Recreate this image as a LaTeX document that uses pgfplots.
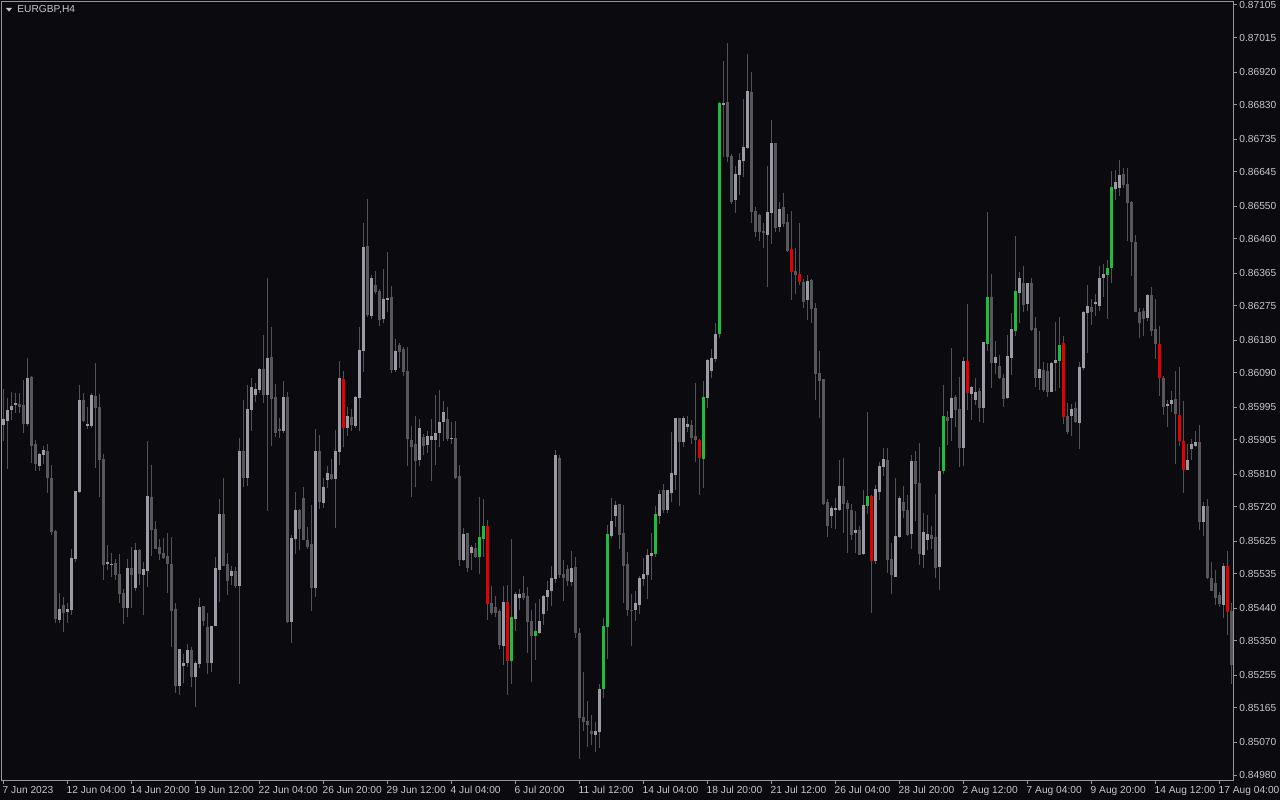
\documentclass[border=0pt]{standalone}
\usepackage{pgfplots}
\usepackage{pgfplotstable}
\pgfplotsset{compat=1.18}
\usepackage{fontspec}
\setmainfont{Liberation Sans}
\pgfdeclarelayer{background}
\pgfsetlayers{background,main}
\definecolor{bgc}{RGB}{10,10,15}
\definecolor{framec}{RGB}{150,150,155}
\definecolor{txtc}{RGB}{200,200,200}
\definecolor{wickc}{RGB}{82,82,88}
\definecolor{upc}{RGB}{155,155,166}
\definecolor{dnc}{RGB}{88,88,92}
\definecolor{grc}{RGB}{30,190,60}
\definecolor{rdc}{RGB}{228,0,0}

% t: 0 up (light), 1 down (dark), 2 green, 3 red
\pgfplotstableread{
i o h l c t
0 0.85946 0.86045 0.85902 0.85963 0
1 0.85957 0.86021 0.85825 0.85987 0
2 0.85987 0.86037 0.85960 0.85998 0
3 0.86001 0.86034 0.85979 0.86007 0
4 0.86004 0.86034 0.85979 0.85996 1
5 0.86001 0.86070 0.85924 0.85949 1
6 0.85949 0.86131 0.85943 0.86078 0
7 0.86078 0.86081 0.85841 0.85888 1
8 0.85894 0.85905 0.85819 0.85838 1
9 0.85833 0.85869 0.85819 0.85866 0
10 0.85863 0.85888 0.85838 0.85877 0
11 0.85877 0.85894 0.85761 0.85802 1
12 0.85802 0.85836 0.85645 0.85651 1
13 0.85653 0.85656 0.85400 0.85411 1
14 0.85408 0.85482 0.85400 0.85438 0
15 0.85449 0.85471 0.85377 0.85427 1
16 0.85430 0.85455 0.85400 0.85438 0
17 0.85435 0.85604 0.85422 0.85579 0
18 0.85576 0.85764 0.85568 0.85764 0
19 0.85761 0.86056 0.85758 0.86015 0
20 0.86015 0.86034 0.85954 0.85957 1
21 0.85946 0.85996 0.85935 0.85949 0
22 0.85943 0.86034 0.85938 0.86029 0
23 0.86026 0.86117 0.85827 0.85993 1
24 0.85996 0.86032 0.85747 0.85849 1
25 0.85852 0.85866 0.85518 0.85560 1
26 0.85562 0.85615 0.85546 0.85568 0
27 0.85562 0.85593 0.85526 0.85565 0
28 0.85565 0.85576 0.85518 0.85532 1
29 0.85535 0.85590 0.85455 0.85482 1
30 0.85482 0.85493 0.85397 0.85441 1
31 0.85441 0.85576 0.85416 0.85551 0
32 0.85551 0.85609 0.85441 0.85532 1
33 0.85496 0.85620 0.85488 0.85601 0
34 0.85601 0.85604 0.85504 0.85535 1
35 0.85532 0.85568 0.85422 0.85549 0
36 0.85543 0.85902 0.85499 0.85750 0
37 0.85747 0.85836 0.85587 0.85656 1
38 0.85659 0.85681 0.85607 0.85604 1
39 0.85609 0.85631 0.85573 0.85590 1
40 0.85593 0.85634 0.85576 0.85579 1
41 0.85584 0.85648 0.85485 0.85562 1
42 0.85562 0.85637 0.85333 0.85433 1
43 0.85438 0.85455 0.85206 0.85226 1
44 0.85226 0.85328 0.85201 0.85328 0
45 0.85281 0.85314 0.85234 0.85289 0
46 0.85289 0.85342 0.85278 0.85325 0
47 0.85325 0.85333 0.85223 0.85250 1
48 0.85250 0.85297 0.85168 0.85289 0
49 0.85286 0.85469 0.85275 0.85446 0
50 0.85446 0.85449 0.85394 0.85405 1
51 0.85388 0.85427 0.85259 0.85289 1
52 0.85289 0.85391 0.85264 0.85391 0
53 0.85391 0.85582 0.85391 0.85551 0
54 0.85546 0.85742 0.85457 0.85700 0
55 0.85700 0.85800 0.85557 0.85557 1
56 0.85562 0.85595 0.85477 0.85515 1
57 0.85529 0.85557 0.85504 0.85543 0
58 0.85543 0.85554 0.85496 0.85502 1
59 0.85502 0.85910 0.85231 0.85874 0
60 0.85877 0.86015 0.85775 0.85802 1
61 0.85802 0.86056 0.85778 0.85990 0
62 0.85987 0.86076 0.85929 0.86051 0
63 0.86029 0.86062 0.86009 0.86045 0
64 0.86043 0.86106 0.86037 0.86101 0
65 0.86101 0.86194 0.86007 0.86029 1
66 0.86029 0.86352 0.85709 0.86131 0
67 0.86134 0.86216 0.85888 0.86018 1
68 0.86023 0.86059 0.85913 0.85924 1
69 0.85935 0.85965 0.85910 0.85929 1
70 0.85929 0.86067 0.85924 0.86023 0
71 0.86023 0.86037 0.85400 0.85402 1
72 0.85402 0.85642 0.85344 0.85634 0
73 0.85631 0.85761 0.85590 0.85711 0
74 0.85711 0.85714 0.85601 0.85659 1
75 0.85745 0.85775 0.85629 0.85629 1
76 0.85631 0.85664 0.85604 0.85612 1
77 0.85618 0.85728 0.85435 0.85496 1
78 0.85496 0.85935 0.85471 0.85874 0
79 0.85874 0.85918 0.85714 0.85733 1
80 0.85733 0.85800 0.85717 0.85775 0
81 0.85794 0.85833 0.85772 0.85814 0
82 0.85811 0.85852 0.85794 0.85797 1
83 0.85797 0.85932 0.85662 0.85874 0
84 0.85871 0.86123 0.85836 0.86076 0
85 0.86073 0.86095 0.85885 0.85938 3
86 0.85938 0.85996 0.85916 0.85971 0
87 0.85968 0.85990 0.85929 0.85946 1
88 0.85943 0.86026 0.85938 0.86023 0
89 0.86021 0.86216 0.85929 0.86153 0
90 0.86150 0.86506 0.86095 0.86437 0
91 0.86440 0.86570 0.86244 0.86250 1
92 0.86247 0.86363 0.86241 0.86354 0
93 0.86332 0.86371 0.86308 0.86313 1
94 0.86316 0.86321 0.86219 0.86236 1
95 0.86239 0.86377 0.86228 0.86294 0
96 0.86291 0.86423 0.86258 0.86297 0
97 0.86299 0.86332 0.86092 0.86098 1
98 0.86098 0.86183 0.86092 0.86150 0
99 0.86167 0.86172 0.86103 0.86150 1
100 0.86156 0.86161 0.86081 0.86092 1
101 0.86095 0.86161 0.85833 0.85907 1
102 0.85907 0.85943 0.85747 0.85888 1
103 0.85894 0.85971 0.85775 0.85847 1
104 0.85849 0.85963 0.85833 0.85938 0
105 0.85913 0.85921 0.85863 0.85888 1
106 0.85891 0.85929 0.85869 0.85916 0
107 0.85905 0.85963 0.85791 0.85916 0
108 0.85905 0.86029 0.85836 0.85924 0
109 0.85924 0.86043 0.85885 0.85957 0
110 0.85954 0.86015 0.85902 0.85982 0
111 0.85963 0.85996 0.85902 0.85907 1
112 0.85907 0.85957 0.85896 0.85910 0
113 0.85910 0.85957 0.85797 0.85800 1
114 0.85805 0.85836 0.85557 0.85573 1
115 0.85573 0.85662 0.85571 0.85645 0
116 0.85648 0.85648 0.85540 0.85551 1
117 0.85593 0.85615 0.85546 0.85609 0
118 0.85609 0.85620 0.85579 0.85582 1
119 0.85582 0.85747 0.85535 0.85637 2
120 0.85634 0.85742 0.85582 0.85670 2
121 0.85667 0.85684 0.85408 0.85452 3
122 0.85455 0.85502 0.85422 0.85427 1
123 0.85444 0.85474 0.85416 0.85427 1
124 0.85433 0.85438 0.85328 0.85339 1
125 0.85336 0.85502 0.85284 0.85457 0
126 0.85457 0.85504 0.85201 0.85295 3
127 0.85295 0.85631 0.85231 0.85416 2
128 0.85411 0.85485 0.85377 0.85480 0
129 0.85471 0.85493 0.85435 0.85482 0
130 0.85482 0.85529 0.85463 0.85469 1
131 0.85474 0.85499 0.85317 0.85402 1
132 0.85405 0.85435 0.85237 0.85364 1
133 0.85364 0.85455 0.85297 0.85377 2
134 0.85372 0.85466 0.85369 0.85405 0
135 0.85424 0.85477 0.85394 0.85474 0
136 0.85471 0.85515 0.85433 0.85490 0
137 0.85490 0.85557 0.85446 0.85526 0
138 0.85521 0.85877 0.85510 0.85863 0
139 0.85855 0.85863 0.85524 0.85532 1
140 0.85535 0.85573 0.85460 0.85524 1
141 0.85549 0.85560 0.85502 0.85515 1
142 0.85515 0.85601 0.85504 0.85554 0
143 0.85554 0.85582 0.85358 0.85372 1
144 0.85372 0.85388 0.85024 0.85137 1
145 0.85140 0.85264 0.85101 0.85126 1
146 0.85129 0.85184 0.85057 0.85118 1
147 0.85101 0.85146 0.85063 0.85093 1
148 0.85090 0.85126 0.85043 0.85101 0
149 0.85099 0.85234 0.85057 0.85217 0
150 0.85217 0.85413 0.85193 0.85391 2
151 0.85388 0.85670 0.85300 0.85645 2
152 0.85640 0.85745 0.85634 0.85681 0
153 0.85695 0.85736 0.85664 0.85725 0
154 0.85728 0.85728 0.85604 0.85642 1
155 0.85648 0.85725 0.85457 0.85557 1
156 0.85562 0.85598 0.85419 0.85435 1
157 0.85438 0.85480 0.85336 0.85435 1
158 0.85435 0.85488 0.85405 0.85455 0
159 0.85449 0.85532 0.85427 0.85524 0
160 0.85521 0.85579 0.85502 0.85535 0
161 0.85532 0.85604 0.85466 0.85587 0
162 0.85584 0.85648 0.85521 0.85593 0
163 0.85590 0.85725 0.85582 0.85700 2
164 0.85695 0.85767 0.85673 0.85758 0
165 0.85767 0.85783 0.85703 0.85714 1
166 0.85714 0.85767 0.85703 0.85767 0
167 0.85761 0.85927 0.85736 0.85814 0
168 0.85808 0.85968 0.85769 0.85965 0
169 0.85965 0.85965 0.85722 0.85899 1
170 0.85899 0.85971 0.85885 0.85965 0
171 0.85941 0.85971 0.85927 0.85949 0
172 0.85946 0.85960 0.85894 0.85910 1
173 0.85916 0.86062 0.85844 0.85905 1
174 0.85905 0.85910 0.85753 0.85855 3
175 0.85852 0.86067 0.85772 0.86023 2
176 0.86021 0.86128 0.85993 0.86125 0
177 0.86095 0.86158 0.86076 0.86131 0
178 0.86128 0.86228 0.86120 0.86197 0
179 0.86197 0.86837 0.86186 0.86835 2
180 0.86832 0.86951 0.86686 0.86837 0
181 0.86837 0.87000 0.86672 0.86686 1
182 0.86688 0.86694 0.86556 0.86561 1
183 0.86567 0.86661 0.86531 0.86639 0
184 0.86636 0.86697 0.86581 0.86677 0
185 0.86675 0.86846 0.86630 0.86713 0
186 0.86710 0.86970 0.86708 0.86868 0
187 0.86865 0.86920 0.86504 0.86534 1
188 0.86537 0.86548 0.86465 0.86479 1
189 0.86526 0.86528 0.86454 0.86479 1
190 0.86481 0.86506 0.86437 0.86476 1
191 0.86473 0.86661 0.86327 0.86534 0
192 0.86531 0.86788 0.86446 0.86724 0
193 0.86724 0.86724 0.86479 0.86490 1
194 0.86493 0.86561 0.86479 0.86542 0
195 0.86548 0.86586 0.86493 0.86501 1
196 0.86506 0.86528 0.86423 0.86426 1
197 0.86432 0.86537 0.86291 0.86368 3
198 0.86371 0.86437 0.86310 0.86360 1
199 0.86363 0.86504 0.86335 0.86341 3
200 0.86343 0.86349 0.86269 0.86288 1
201 0.86291 0.86360 0.86236 0.86346 0
202 0.86346 0.86349 0.86230 0.86266 1
203 0.86269 0.86283 0.86015 0.86087 1
204 0.86090 0.86150 0.85965 0.86067 1
205 0.86073 0.86073 0.85725 0.85728 1
206 0.85733 0.85742 0.85637 0.85667 1
207 0.85697 0.85722 0.85662 0.85717 0
208 0.85711 0.85745 0.85659 0.85717 0
209 0.85711 0.85849 0.85709 0.85778 0
210 0.85778 0.85855 0.85648 0.85728 1
211 0.85731 0.85739 0.85595 0.85714 1
212 0.85714 0.85728 0.85629 0.85645 1
213 0.85648 0.85709 0.85593 0.85659 0
214 0.85659 0.85667 0.85590 0.85590 1
215 0.85590 0.85767 0.85587 0.85725 0
216 0.85722 0.85982 0.85703 0.85750 2
217 0.85750 0.85753 0.85427 0.85571 3
218 0.85571 0.85780 0.85562 0.85772 0
219 0.85761 0.85844 0.85739 0.85833 0
220 0.85830 0.85883 0.85808 0.85852 0
221 0.85849 0.85883 0.85540 0.85573 1
222 0.85576 0.85623 0.85482 0.85532 1
223 0.85529 0.85800 0.85526 0.85640 0
224 0.85637 0.85750 0.85634 0.85745 0
225 0.85736 0.85778 0.85689 0.85711 1
226 0.85714 0.85753 0.85640 0.85645 1
227 0.85645 0.85863 0.85604 0.85847 0
228 0.85847 0.85874 0.85681 0.85783 1
229 0.85786 0.85899 0.85560 0.85590 1
230 0.85590 0.85703 0.85551 0.85653 0
231 0.85629 0.85700 0.85604 0.85645 0
232 0.85645 0.85667 0.85604 0.85634 1
233 0.85637 0.85756 0.85526 0.85551 1
234 0.85554 0.85885 0.85490 0.85819 0
235 0.85819 0.86056 0.85811 0.85971 2
236 0.85968 0.85985 0.85891 0.85957 1
237 0.85965 0.86161 0.85902 0.86021 0
238 0.86023 0.86029 0.85941 0.85987 1
239 0.85990 0.86078 0.85830 0.85883 1
240 0.85883 0.86136 0.85833 0.86123 0
241 0.86123 0.86280 0.85987 0.86034 3
242 0.86034 0.86054 0.85960 0.86051 0
243 0.86015 0.86076 0.86001 0.86037 0
244 0.86040 0.86048 0.85954 0.85993 1
245 0.85993 0.86175 0.85952 0.86175 0
246 0.86169 0.86534 0.86150 0.86299 2
247 0.86299 0.86363 0.86048 0.86117 1
248 0.86117 0.86178 0.86087 0.86134 0
249 0.86109 0.86139 0.86073 0.86076 1
250 0.86076 0.86087 0.85998 0.86018 1
251 0.86021 0.86194 0.86018 0.86136 0
252 0.86131 0.86255 0.86084 0.86211 0
253 0.86205 0.86468 0.86192 0.86316 2
254 0.86313 0.86371 0.86230 0.86352 0
255 0.86338 0.86385 0.86258 0.86277 1
256 0.86280 0.86341 0.86263 0.86338 0
257 0.86338 0.86352 0.86205 0.86208 1
258 0.86214 0.86244 0.86051 0.86076 1
259 0.86076 0.86208 0.86045 0.86101 0
260 0.86098 0.86120 0.86037 0.86045 1
261 0.86095 0.86117 0.86023 0.86037 1
262 0.86037 0.86120 0.86037 0.86117 0
263 0.86117 0.86230 0.86040 0.86125 0
264 0.86123 0.86244 0.86048 0.86169 2
265 0.86172 0.86194 0.85949 0.85968 3
266 0.85971 0.86007 0.85921 0.85927 1
267 0.85971 0.86004 0.85916 0.85990 0
268 0.85993 0.86009 0.85952 0.85954 1
269 0.85952 0.86120 0.85880 0.86106 0
270 0.86103 0.86261 0.86098 0.86258 0
271 0.86255 0.86332 0.86145 0.86274 0
272 0.86272 0.86294 0.86222 0.86258 1
273 0.86280 0.86308 0.86247 0.86285 0
274 0.86277 0.86385 0.86261 0.86354 0
275 0.86352 0.86393 0.86302 0.86363 0
276 0.86360 0.86401 0.86239 0.86379 2
277 0.86382 0.86647 0.86338 0.86603 2
278 0.86597 0.86650 0.86567 0.86617 0
279 0.86600 0.86677 0.86578 0.86636 0
280 0.86639 0.86655 0.86600 0.86608 1
281 0.86611 0.86655 0.86454 0.86559 1
282 0.86561 0.86564 0.86357 0.86451 1
283 0.86451 0.86470 0.86258 0.86258 1
284 0.86258 0.86269 0.86186 0.86228 1
285 0.86261 0.86269 0.86194 0.86239 1
286 0.86241 0.86308 0.86233 0.86305 0
287 0.86305 0.86327 0.86192 0.86205 1
288 0.86211 0.86294 0.86128 0.86169 1
289 0.86169 0.86219 0.86026 0.86076 3
290 0.86076 0.86081 0.85974 0.85996 1
291 0.86001 0.86015 0.85941 0.86004 0
292 0.86004 0.86040 0.85982 0.86015 0
293 0.86018 0.86095 0.85838 0.85976 1
294 0.85974 0.86106 0.85888 0.85902 3
295 0.85902 0.86012 0.85758 0.85822 3
296 0.85822 0.85894 0.85822 0.85849 0
297 0.85880 0.85907 0.85849 0.85894 0
298 0.85888 0.85929 0.85885 0.85899 0
299 0.85899 0.85946 0.85656 0.85678 1
300 0.85678 0.85733 0.85640 0.85722 0
301 0.85722 0.85742 0.85521 0.85526 1
302 0.85526 0.85568 0.85490 0.85490 1
303 0.85512 0.85546 0.85449 0.85471 1
304 0.85477 0.85485 0.85444 0.85452 1
305 0.85449 0.85565 0.85413 0.85557 0
306 0.85557 0.85598 0.85366 0.85430 3
307 0.85433 0.85455 0.85231 0.85284 1
}\candles

\pgfplotsset{
  body/.style={draw=none, mark=none,
    error bars/y dir=both, error bars/y explicit, error bars/error mark=none,
    error bars/error bar style={draw=#1, line width=1.5pt}},
}

\begin{document}
\begin{tikzpicture}
\begin{axis}[
  scale only axis,
  width=615.5pt, height=389.5pt,
  xmin=-0.333, xmax=307.42, ymin=0.849662, ymax=0.871160,
  axis line style={framec, line width=0.5pt},
  xtick={0,16,...,304},
  xticklabels={7 Jun 2023,12 Jun 04:00,14 Jun 20:00,19 Jun 12:00,22 Jun 04:00,26 Jun 20:00,29 Jun 12:00,4 Jul 04:00,6 Jul 20:00,11 Jul 12:00,14 Jul 04:00,18 Jul 20:00,21 Jul 12:00,26 Jul 04:00,28 Jul 20:00,2 Aug 12:00,7 Aug 04:00,9 Aug 20:00,14 Aug 12:00,17 Aug 04:00},
  ytick={0.87105,0.87015,0.86920,0.86830,0.86735,0.86645,0.86550,0.86460,0.86365,0.86275,0.86180,0.86090,0.85995,0.85905,0.85810,0.85720,0.85625,0.85535,0.85440,0.85350,0.85255,0.85165,0.85070,0.84980},
  yticklabels={0.87105,0.87015,0.86920,0.86830,0.86735,0.86645,0.86550,0.86460,0.86365,0.86275,0.86180,0.86090,0.85995,0.85905,0.85810,0.85720,0.85625,0.85535,0.85440,0.85350,0.85255,0.85165,0.85070,0.84980},
  xtick pos=left, xticklabel pos=left,
  ytick pos=right, yticklabel pos=right,
  tick align=outside, major tick length=2pt,
  tick style={framec, line width=0.5pt},
  ticklabel style={font=\fontsize{5.1}{6}\selectfont, text=txtc, inner sep=0pt},
  xticklabel style={anchor=north west, yshift=-0.75pt, xshift=-0.5pt},
  yticklabel style={anchor=west, xshift=1pt},
]
\coordinate (bl) at (rel axis cs:0,0);
% wicks
\addplot[draw=none, mark=none,
  error bars/y dir=both, error bars/y explicit, error bars/error mark=none,
  error bars/error bar style={draw=wickc, line width=0.5pt}]
  table[x=i, y expr={(\thisrow{h}+\thisrow{l})/2}, y error expr={(\thisrow{h}-\thisrow{l})/2}] {\candles};
% bodies
\addplot[restrict expr to domain={\thisrow{t}}{0:0}, body=upc]
  table[x=i, y expr={(\thisrow{o}+\thisrow{c})/2}, y error expr={max(abs(\thisrow{o}-\thisrow{c})/2,0.000014)}] {\candles};
\addplot[restrict expr to domain={\thisrow{t}}{1:1}, body=dnc]
  table[x=i, y expr={(\thisrow{o}+\thisrow{c})/2}, y error expr={max(abs(\thisrow{o}-\thisrow{c})/2,0.000014)}] {\candles};
\addplot[restrict expr to domain={\thisrow{t}}{2:2}, body=grc]
  table[x=i, y expr={(\thisrow{o}+\thisrow{c})/2}, y error expr={max(abs(\thisrow{o}-\thisrow{c})/2,0.000014)}] {\candles};
\addplot[restrict expr to domain={\thisrow{t}}{3:3}, body=rdc]
  table[x=i, y expr={(\thisrow{o}+\thisrow{c})/2}, y error expr={max(abs(\thisrow{o}-\thisrow{c})/2,0.000014)}] {\candles};
\end{axis}
\begin{pgfonlayer}{background}
\fill[bgc] ([shift={(-1pt,-10pt)}]bl) rectangle ++(640pt,400pt);
\end{pgfonlayer}
\fill[txtc] ([shift={(2pt,386pt)}]bl) -- ++(3pt,0pt) -- ++(-1.5pt,-1.8pt) -- cycle;
\node[anchor=west, text=txtc, font=\fontsize{5.1}{6}\selectfont, inner sep=0pt] at ([shift={(7.5pt,385pt)}]bl) {EURGBP,H4};
\pgfresetboundingbox
\useasboundingbox ([shift={(-1pt,-10pt)}]bl) rectangle ++(640pt,400pt);
\end{tikzpicture}
\end{document}
